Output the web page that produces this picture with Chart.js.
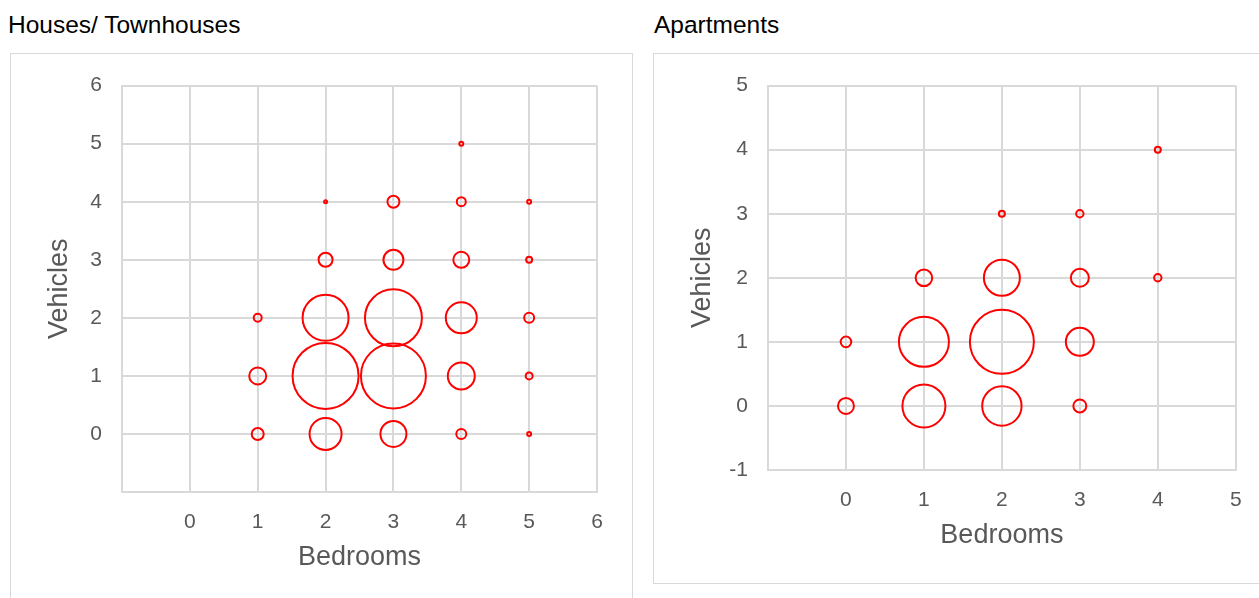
<!DOCTYPE html>
<html>
<head>
<meta charset="utf-8">
<script src="https://cdn.jsdelivr.net/npm/chart.js@4"></script>
<style>
  body { margin: 0; background: #fff; font-family: "Liberation Sans", Arial, sans-serif; }
  .title { position: absolute; top: 11px; font-size: 24.5px; color: #000; }
  .box { position: absolute; top: 53px; border: 1px solid #d9d9d9; box-sizing: border-box; }
  canvas { position: absolute; }
</style>
</head>
<body>
<div class="title" style="left:8px">Houses/ Townhouses</div>
<div class="title" style="left:654px">Apartments</div>
<div class="box" style="left:10px; width:623px; height:580px"></div>
<div class="box" style="left:653px; width:620px; height:531px"></div>
<div style="position:absolute; left:10px; top:53px; width:622px; height:545px"><canvas id="housesChart"></canvas></div>
<div style="position:absolute; left:653px; top:53px; width:606px; height:530px"><canvas id="aptChart"></canvas></div>
<script>
// Houses / townhouses: bedrooms, vehicles, bubble radius
const houseBedrooms = [1, 1, 1, 2, 2, 2, 2, 2, 3, 3, 3, 3, 3, 4, 4, 4, 4, 4, 4, 5, 5, 5, 5, 5];
const houseVehicles = [0, 1, 2, 0, 1, 2, 3, 4, 0, 1, 2, 3, 4, 0, 1, 2, 3, 4, 5, 0, 1, 2, 3, 4];
const houseRadius   = [6, 8.5, 4, 16, 33, 23, 7, 1.5, 13, 32.5, 28.5, 10, 6, 5, 13.5, 15.5, 8, 4.5, 2, 2, 3.5, 5, 3, 2];

// Apartments
const aptBedrooms = [0, 0, 1, 1, 1, 2, 2, 2, 2, 3, 3, 3, 3, 4, 4];
const aptVehicles = [0, 1, 0, 1, 2, 0, 1, 2, 3, 0, 1, 2, 3, 2, 4];
const aptRadius   = [8, 5.3, 21.5, 25, 8.3, 19.7, 32, 18, 3, 6.5, 14, 9, 3.7, 3.7, 3];

const houseRange = { min: -1, max: 6 };
const aptRange = { min: -1, max: 5 };

const FONT = '"Liberation Sans", Arial, sans-serif';
const GREY = '#595959';
const GRID = '#d9d9d9';

function points(xs, ys, rs) {
    return xs.map((x, i) => ({ x: x, y: ys[i], r: rs[i] }));
}

function makeChart(id, data, range, opts) {
    const ctx = document.getElementById(id).getContext('2d');
    return new Chart(ctx, {
        type: 'bubble',
        data: {
            datasets: [{
                data: data,
                borderColor: '#ff0000',
                backgroundColor: 'rgba(255, 255, 255, 0)',
                borderWidth: 2,
                hoverBorderWidth: 2
            }]
        },
        options: {
            responsive: true,
            maintainAspectRatio: false,
            animation: false,
            layout: {
                autoPadding: false,
                padding: { left: 0, top: 30, right: opts.padRight, bottom: 0 }
            },
            plugins: {
                legend: { display: false },
                tooltip: { enabled: false }
            },
            scales: {
                x: {
                    type: 'linear',
                    min: range.min,
                    max: range.max,
                    afterFit: function(scale) { scale.height = opts.xHeight; },
                    grid: { color: GRID, lineWidth: 2, drawTicks: false },
                    border: { color: GRID, width: 2 },
                    ticks: {
                        stepSize: 1,
                        padding: 17.4,
                        color: GREY,
                        font: { family: FONT, size: 21 },
                        callback: function(value) {
                            return value === -1 ? '' : value;
                        }
                    },
                    title: {
                        display: true,
                        text: 'Bedrooms',
                        color: GREY,
                        font: { family: FONT, size: 27 },
                        padding: { top: 0, bottom: opts.xTitlePad }
                    }
                },
                y: {
                    type: 'linear',
                    min: range.min,
                    max: range.max,
                    afterFit: function(scale) { scale.width = opts.yWidth; },
                    grid: { color: GRID, lineWidth: 2, drawTicks: false },
                    border: { color: GRID, width: 2 },
                    ticks: {
                        stepSize: 1,
                        padding: 20,
                        color: GREY,
                        font: { family: FONT, size: 21 },
                        callback: function(value) {
                            return value === -1 ? opts.minusLabel : value;
                        }
                    },
                    title: {
                        display: true,
                        text: 'Vehicles',
                        color: GREY,
                        font: { family: FONT, size: 27 },
                        padding: { top: 33.8, bottom: 0 }
                    }
                }
            }
        }
    });
}

makeChart('housesChart', points(houseBedrooms, houseVehicles, houseRadius), houseRange, {
    padRight: 35, xHeight: 106, yWidth: 112, xTitlePad: 23.8, minusLabel: ''
});

makeChart('aptChart', points(aptBedrooms, aptVehicles, aptRadius), aptRange, {
    padRight: 22, xHeight: 113, yWidth: 115, xTitlePad: 30.8, minusLabel: '-1'
});
</script>
</body>
</html>
